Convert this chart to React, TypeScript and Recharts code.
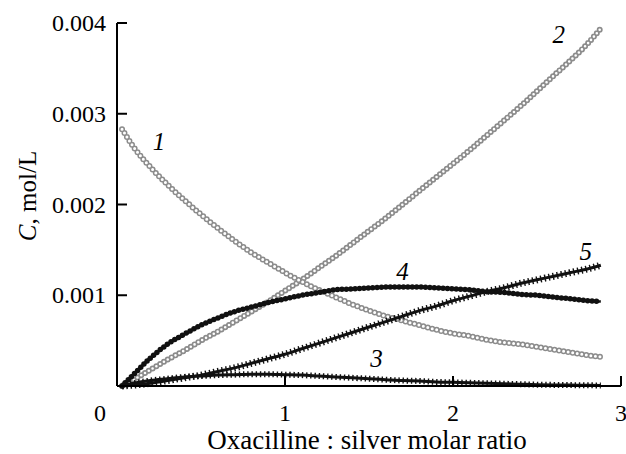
import React from 'react';
import { LineChart, Line, XAxis, YAxis, ReferenceDot } from 'recharts';

// x: oxacilline : silver molar ratio
const xs = [0.03, 0.1, 0.2, 0.3, 0.4, 0.5, 0.6, 0.7, 0.8, 0.9, 1.0, 1.1, 1.2, 1.3, 1.4, 1.5, 1.6, 1.7, 1.8, 1.9, 2.0, 2.1, 2.2, 2.3, 2.4, 2.5, 2.6, 2.7, 2.8, 2.88];
// concentrations, in 10^-3 mol/L
const c1 = [2.83, 2.63, 2.41, 2.22, 2.05, 1.89, 1.74, 1.6, 1.47, 1.36, 1.25, 1.15, 1.06, 0.98, 0.9, 0.83, 0.77, 0.72, 0.67, 0.62, 0.58, 0.55, 0.51, 0.48, 0.46, 0.43, 0.4, 0.37, 0.34, 0.32];
const c2 = [0.0, 0.07, 0.18, 0.29, 0.39, 0.5, 0.6, 0.71, 0.82, 0.93, 1.05, 1.17, 1.3, 1.43, 1.57, 1.71, 1.85, 2.0, 2.15, 2.3, 2.45, 2.6, 2.76, 2.92, 3.08, 3.25, 3.42, 3.59, 3.77, 3.94];
const c3 = [0.0, 0.03, 0.06, 0.08, 0.1, 0.11, 0.12, 0.125, 0.13, 0.13, 0.125, 0.12, 0.11, 0.1, 0.09, 0.08, 0.07, 0.06, 0.055, 0.045, 0.04, 0.035, 0.03, 0.025, 0.02, 0.015, 0.012, 0.01, 0.008, 0.006];
const c4 = [0.0, 0.13, 0.31, 0.46, 0.57, 0.67, 0.75, 0.82, 0.87, 0.92, 0.96, 1.0, 1.03, 1.06, 1.07, 1.08, 1.09, 1.09, 1.09, 1.08, 1.07, 1.06, 1.04, 1.03, 1.01, 1.0, 0.98, 0.96, 0.94, 0.93];
const c5 = [0.0, 0.01, 0.03, 0.06, 0.09, 0.12, 0.16, 0.2, 0.25, 0.3, 0.35, 0.41, 0.47, 0.53, 0.59, 0.65, 0.71, 0.77, 0.83, 0.88, 0.94, 0.99, 1.04, 1.08, 1.13, 1.17, 1.21, 1.25, 1.29, 1.33];

const xTicks = [0, 1, 2, 3];
const yTicks = [1, 2, 3, 4];

// curve number labels: [text, x, y]
const curveLabels: [string, number, number][] = [
  ['1', 0.25, 2.69],
  ['2', 2.63, 3.87],
  ['3', 1.545, 0.3],
  ['4', 1.7, 1.26],
  ['5', 2.79, 1.48],
];

const data = xs.map((x, i) => ({ x, s1: c1[i], s2: c2[i], s3: c3[i], s4: c4[i], s5: c5[i] }));

const FONT = 'Liberation Serif, serif';

const XTick = (props: any) => {
  const { x, y, payload } = props;
  const v = payload.value;
  return (
    <g>
      <line x1={x} x2={x} y1={y} y2={y - 10} stroke="#000" strokeWidth={2} />
      <text x={v === 0 ? x - 17 : x} y={y + 27} textAnchor="middle" dominantBaseline="central" style={{ fontFamily: FONT }} fontSize={24} fill="#000">
        {v}
      </text>
    </g>
  );
};

const YTick = (props: any) => {
  const { x, y, payload } = props;
  return (
    <g>
      <line x1={x} x2={x + 10} y1={y} y2={y} stroke="#000" strokeWidth={2} />
      <text x={x - 11} y={y} textAnchor="end" dominantBaseline="central" style={{ fontFamily: FONT }} fontSize={24} fill="#000">
        {(payload.value / 1000).toFixed(3)}
      </text>
    </g>
  );
};

const common = { type: 'monotone' as const, dot: false, activeDot: false, isAnimationActive: false, legendType: 'none' as const };

export default function App() {
  return (
    <div style={{ position: 'absolute', left: 0, top: 0, width: 626, height: 454, background: '#fff' }}>
      <LineChart width={626} height={454} data={data} margin={{ top: 23, right: 5, bottom: 0, left: 0 }}>
        <XAxis
          dataKey="x"
          type="number"
          domain={[0, 3]}
          ticks={xTicks}
          interval={0}
          height={68}
          tickSize={0}
          tickMargin={0}
          tick={<XTick />}
          axisLine={{ stroke: '#000', strokeWidth: 2 }}
          tickLine={false}
          label={(p: any) => (
            <text x={367} y={440} textAnchor="middle" dominantBaseline="central" style={{ fontFamily: FONT }} fontSize={27} fill="#000">
              Oxacilline : silver molar ratio
            </text>
          )}
        />
        <YAxis
          type="number"
          domain={[0, 4]}
          ticks={yTicks}
          interval={0}
          width={117}
          tickSize={0}
          tickMargin={0}
          tick={<YTick />}
          axisLine={{ stroke: '#000', strokeWidth: 2 }}
          tickLine={false}
          label={(p: any) => (
            <text x={27} y={196} transform="rotate(-90, 27, 196)" textAnchor="middle" dominantBaseline="central" style={{ fontFamily: FONT }} fontSize={25} fill="#000">
              <tspan fontStyle="italic">C</tspan>, mol/L
            </text>
          )}
        />
        {/* curve 2: open triangles (grey) */}
        <Line {...common} dataKey="s2" stroke="#8c8c8c" strokeWidth={6} strokeDasharray="0 4.4" strokeLinecap="round" />
        <Line {...common} dataKey="s2" stroke="#ffffff" strokeWidth={2.6} strokeDasharray="0 4.4" strokeLinecap="round" />
        {/* curve 1: open circles (grey) */}
        <Line {...common} dataKey="s1" stroke="#8c8c8c" strokeWidth={6} strokeDasharray="0 4.6" strokeLinecap="round" />
        <Line {...common} dataKey="s1" stroke="#ffffff" strokeWidth={3} strokeDasharray="0 4.6" strokeLinecap="round" />
        {/* curve 3 */}
        <Line {...common} dataKey="s3" stroke="#111" strokeWidth={3} />
        <Line {...common} dataKey="s3" stroke="#111" strokeWidth={6} strokeDasharray="1.4 2.8" />
        {/* curve 5: filled triangles */}
        <Line {...common} dataKey="s5" stroke="#111" strokeWidth={3} />
        <Line {...common} dataKey="s5" stroke="#111" strokeWidth={7} strokeDasharray="1.4 2.8" />
        {/* curve 4: filled circles */}
        <Line {...common} dataKey="s4" stroke="#111" strokeWidth={5.5} strokeDasharray="0 4.4" strokeLinecap="round" />
        <Line {...common} dataKey="s4" stroke="#111" strokeWidth={2.5} />
        {curveLabels.map(([t, x, y]) => (
          <ReferenceDot
            key={t}
            x={x}
            y={y}
            r={0}
            fill="none"
            stroke="none"
            label={(p: any) => (
              <text x={p.viewBox.x} y={p.viewBox.y} textAnchor="middle" dominantBaseline="central" style={{ fontFamily: FONT }} fontStyle="italic" fontSize={25} fill="#000">
                {t}
              </text>
            )}
          />
        ))}
      </LineChart>
    </div>
  );
}
